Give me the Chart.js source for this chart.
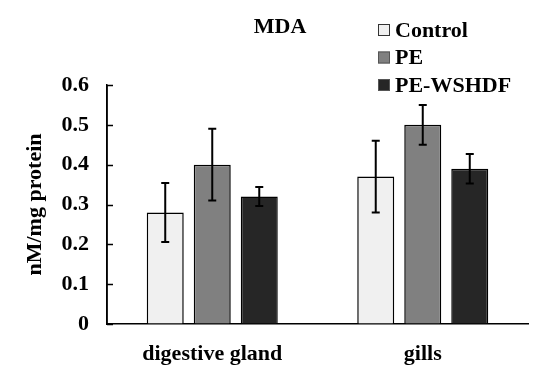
<!DOCTYPE html>
<html>
<head>
<meta charset="utf-8">
<script src="https://cdn.jsdelivr.net/npm/chart.js@4/dist/chart.umd.min.js"></script>
<style>
  html, body { margin: 0; padding: 0; background: #fff; }
  #wrap { width: 550px; height: 368px; }
</style>
</head>
<body>
<div id="wrap"><canvas id="myChart" width="550" height="368"></canvas></div>
<script>
// data
const categories = ["digestive gland", "gills"];
const seriesNames = ["Control", "PE", "PE-WSHDF"];
const controlValues = [0.28, 0.37];
const peValues = [0.40, 0.50];
const wshdfValues = [0.32, 0.39];
const controlErr = [0.074, 0.09];
const peErr = [0.09, 0.05];
const wshdfErr = [0.024, 0.037];
const yTicks = [0, 0.1, 0.2, 0.3, 0.4, 0.5, 0.6];

const colors = ["#f0f0f0", "#808080", "#262626"];
const errors = [controlErr, peErr, wshdfErr];
const FONT = "'Liberation Serif', 'Times New Roman', serif";

// error bars + y axis line with inward ticks + legend + title
const extras = {
    id: 'extras',
    afterDatasetsDraw(chart) {
        const ctx = chart.ctx;
        const y = chart.scales.y;
        const area = chart.chartArea;
        ctx.save();
        ctx.strokeStyle = "#000";
        ctx.lineWidth = 2;
        chart.data.datasets.forEach((ds, i) => {
            const meta = chart.getDatasetMeta(i);
            meta.data.forEach((bar, j) => {
                const v = ds.data[j];
                const e = errors[i][j];
                const yt = y.getPixelForValue(v + e);
                const yb = y.getPixelForValue(v - e);
                ctx.beginPath();
                ctx.moveTo(bar.x, yt); ctx.lineTo(bar.x, yb);
                ctx.moveTo(bar.x - 4, yt); ctx.lineTo(bar.x + 4, yt);
                ctx.moveTo(bar.x - 4, yb); ctx.lineTo(bar.x + 4, yb);
                ctx.stroke();
            });
        });
        // y axis line and inward tick marks
        ctx.lineWidth = 1.5;
        ctx.beginPath();
        ctx.moveTo(area.left, area.top);
        ctx.lineTo(area.left, area.bottom);
        ctx.stroke();
        yTicks.forEach(t => {
            const py = Math.round(y.getPixelForValue(t)) + 0.5;
            ctx.beginPath();
            ctx.moveTo(area.left, py); ctx.lineTo(area.left + 6, py);
            ctx.stroke();
        });
        // title
        ctx.fillStyle = "#000";
        ctx.font = "bold 22px " + FONT;
        ctx.textAlign = "center";
        ctx.textBaseline = "middle";
        ctx.fillText("MDA", 280, 27);
        // legend
        ctx.textAlign = "left";
        seriesNames.forEach((name, i) => {
            const cy = 30 + i * 27.5;
            ctx.fillStyle = colors[i];
            ctx.fillRect(378, cy - 6, 12, 12);
            ctx.strokeStyle = i === 0 ? "#333" : "#555";
            ctx.lineWidth = 1;
            ctx.strokeRect(378.5, cy - 5.5, 11, 11);
            ctx.fillStyle = "#000";
            ctx.fillText(name, 395, cy + 1);
        });
        ctx.restore();
    }
};

const ctx = document.getElementById('myChart').getContext('2d');
const myChart = new Chart(ctx, {
    type: 'bar',
    data: {
        labels: categories,
        datasets: [
            { label: seriesNames[0], data: controlValues },
            { label: seriesNames[1], data: peValues },
            { label: seriesNames[2], data: wshdfValues }
        ].map((d, i) => Object.assign(d, {
            backgroundColor: colors[i],
            borderColor: "#000",
            borderWidth: 1.5,
            categoryPercentage: 0.67,
            barPercentage: 0.787
        }))
    },
    options: {
        responsive: false,
        animation: false,
        layout: { padding: { top: 85, right: 22, left: 0, bottom: 0 } },
        plugins: { legend: { display: false }, tooltip: { enabled: false } },
        scales: {
            x: {
                grid: { display: true, drawOnChartArea: false, drawTicks: false },
                border: { display: true, color: "#000", width: 1.5 },
                ticks: { color: "#000", font: { family: FONT, size: 22, weight: 'bold' }, padding: 17 },
                afterFit: s => { s.height = 44; }
            },
            y: {
                min: 0, max: 0.6,
                afterBuildTicks: s => { s.ticks = yTicks.map(v => ({ value: v })); },
                grid: { display: true, drawOnChartArea: false, drawTicks: false },
                border: { display: true, color: "#000", width: 1.5 },
                ticks: {
                    color: "#000",
                    font: { family: FONT, size: 22, weight: 'bold' },
                    padding: 18,
                    callback: v => v === 0 ? "0" : v.toFixed(1)
                },
                title: {
                    display: true, text: "nM/mg protein", color: "#000",
                    font: { family: FONT, size: 22, weight: 'bold' },
                    padding: { top: 22, bottom: 0 }
                },
                afterFit: s => { s.width = 107; }
            }
        }
    },
    plugins: [extras]
});
</script>
</body>
</html>
